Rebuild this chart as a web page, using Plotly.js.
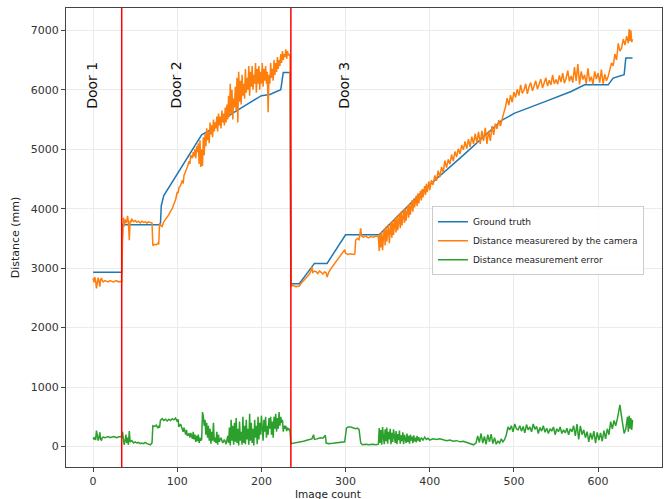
<!DOCTYPE html>
<html>
<head>
<meta charset="utf-8">
<script src="https://cdn.plot.ly/plotly-3.0.1.min.js"></script>
<style>html,body{margin:0;padding:0;background:#fff;}#chart{width:669px;height:499px;}</style>
</head>
<body>
<div id="chart"></div>
<script>
// ---- data ----
const seriesNames = ["Ground truth", "Distance measurered by the camera", "Distance measurement error"];
const doorLabels = ["Door 1", "Door 2", "Door 3"];
const doorLabelX = [-1.5, 99, 298];
const doorLabelY = [6080, 6080, 6080];
const doorBoundaries = [34, 235];

const groundTruthX = [0, 34, 35, 80, 81, 84, 129, 145, 165, 182, 200, 210, 223, 226, 234,
  235, 245, 263, 278, 300, 340, 395, 440, 486, 501, 537, 568, 584, 612, 618, 631, 633, 641];
const groundTruthY = [2930, 2930, 3730, 3730, 4050, 4220, 5240, 5370, 5600, 5750, 5900, 5920, 6000, 6290, 6290,
  2740, 2740, 3080, 3080, 3560, 3560, 4340, 4900, 5490, 5606, 5800, 5970, 6082, 6082, 6195, 6251, 6535, 6535];

// measured distance, door 1
const measuredDoor1 = [[0,2830],[1,2760],[2,2850],[3,2790],[4,2660],[5,2800],[6,2840],[7,2780],[8,2690],[9,2810],[10,2830],[11,2790],[12,2770],[14,2790],[16,2780],[18,2770],[20,2790],[22,2780],[24,2770],[26,2780],[28,2790],[30,2770],[32,2780],[34,2780]];
// measured distance, door 2
const measuredDoor2 = [[35,3480],[36,3850],[37,3700],[38,3820],[39,3760],[40,3790],[41,3880],[42,3760],[43,3470],[44,3800],[45,3770],[46,3830],[48,3780],[50,3800],[52,3770],[54,3790],[56,3760],[58,3790],[60,3770],[62,3780],[64,3760],[66,3780],[68,3770],[70,3760],[71,3380],[73,3400],[75,3390],[77,3420],[78,3400],[79,3760],[80,3720],[82,3700],[84,3780],[86,3820],[88,3850],[90,3900],[92,3960],[94,4000],[96,4080],[98,4150],[100,4280],[101,4260],[102,4350],[104,4390],[106,4480],[107,4420],[108,4560],[110,4620],[112,4700],[114,4800],[115,4750],[116,4900],[118,4850],[119,4950],[120,4880],[121,5000],[122,4850],[123,5050],[124,4950],[125,5100],[126,4750],[127,5150],[128,4700],[129,5000],[130,4720],[131,5200],[132,4900],[133,5250],[134,5050],[135,5350],[136,5150],[137,5300],[138,5100],[139,5450],[140,5250],[141,5400],[142,5200],[143,5500],[144,5300],[145,5450],[146,5350],[147,5550],[148,5300],[149,5600],[150,5400],[151,5550],[152,5350],[153,5650],[154,5450],[155,5600],[156,5400],[157,5700],[158,5450],[159,5750],[160,5500],[161,5900],[162,5550],[163,6100],[164,5600],[165,6000],[166,5500],[167,5850],[168,5700],[169,6050],[170,5650],[171,6200],[172,5450],[173,6300],[174,5800],[175,6150],[176,5750],[177,6250],[178,5900],[179,6100],[180,5850],[181,6350],[182,5950],[183,6200],[184,6000],[185,6400],[186,5900],[187,6300],[188,6050],[189,6400],[190,6000],[191,6250],[192,6100],[193,6450],[194,5950],[195,6350],[196,6100],[197,6400],[198,6000],[199,6300],[200,6100],[201,6450],[202,6050],[203,6350],[204,6150],[205,6400],[206,6100],[207,6300],[208,5620],[209,6250],[210,6100],[211,6450],[212,6200],[213,6350],[214,6150],[215,6500],[216,6250],[217,6450],[218,6300],[219,6550],[220,6350],[221,6500],[222,6400],[223,6600],[224,6450],[225,6650],[226,6500],[227,6600],[228,6550],[229,6680],[230,6520],[231,6650],[232,6580],[233,6600],[234,6550]];
// measured distance, door 3
const measuredDoor3 = [[235,2700],[238,2710],[241,2690],[245,2700],[248,2760],[251,2800],[254,2850],[257,2900],[259,2960],[260,3020],[261,2930],[263,2950],[265,2940],[267,2910],[269,2950],[271,2930],[273,2900],[275,2940],[277,2920],[278,2850],[280,2930],[284,3020],[288,3100],[292,3180],[296,3250],[299,3310],[300,3250],[303,3230],[306,3240],[309,3230],[311,3240],[312,3470],[314,3500],[316,3480],[318,3670],[319,3540],[321,3520],[324,3540],[327,3510],[330,3530],[333,3520],[336,3540],[339,3530],
[340,3290],[341,3580],[342,3350],[343,3610],[344,3300],[345,3520],[346,3660],[347,3380],[348,3700],[349,3450],[350,3600],[351,3740],[352,3420],[353,3690],[354,3780],[355,3510],[356,3800],[357,3560],[358,3720],[359,3850],[360,3600],[361,3880],[362,3640],[363,3760],[364,3920],[365,3670],[366,3950],[367,3720],[368,3830],[369,3990],[370,3760],[371,4000],[372,3800],[373,3920],[374,4060],[375,3850],[376,4080],[377,3900],[378,4010],[379,4140],[380,3950],[381,4170],[382,4020],[383,4100],[384,4220],[385,4040],[386,4260],[387,4090],[388,4180],[389,4300],[390,4140],[391,4330],[392,4190],[393,4260],[394,4380],[395,4230],[396,4420],[397,4280],[398,4350],[399,4460],[400,4310],
[402,4480],[404,4400],[406,4560],[408,4470],[410,4640],[412,4530],[414,4700],[416,4610],[418,4810],[420,4690],[422,4830],[424,4750],[426,4910],[428,4800],[430,4960],[432,4870],[434,5010],[436,4920],[438,5070],[440,4990],[442,5130],[444,5010],[446,5170],[448,5040],[450,5210],[452,5090],[454,5260],[456,5110],[458,5290],[460,5090],[462,5310],[464,5140],[466,5360],[468,5090],[470,5310],[472,5140],[474,5390],[476,5240],[478,5430],[480,5340],[482,5490],[484,5390],[486,5530],[488,5610],[490,5710],[492,5860],[494,5740],[496,5910],[498,5790],[500,5960],
[502,5870],[504,6010],[506,5900],[508,6080],[510,5940],[512,5990],[514,6100],[516,5930],[518,6050],[520,6120],[522,5980],[524,6070],[526,6150],[528,6010],[530,6090],[532,6180],[534,6030],[536,6120],[538,6200],[540,6060],[542,6160],[544,6080],[546,6250],[548,6100],[550,6170],[552,6090],[554,6240],[556,6130],[558,6280],[560,6110],[562,6190],[564,6320],[566,6140],[568,6230],[570,6120],[572,6380],[574,6150],[576,6430],[578,6090],[580,6310],[582,6170],[584,6250],[586,6100],[588,6360],[590,6140],[592,6220],[594,6090],[596,6310],[598,6180],[600,6280],[602,6120],[604,6340],[606,6100],[608,6260],[610,6150],[612,6220],[614,6330],[616,6450],[618,6400],[620,6600],[622,6500],[624,6780],[626,6650],[628,6700],[630,6850],[632,6750],[634,6900],[636,6780],[637,7020],[638,6820],[639,7000],[640,6800],[641,6850]];

// measurement error
const errorDoor1 = [[0,150],[1,120],[2,160],[3,110],[4,270],[5,130],[6,100],[7,150],[8,240],[9,120],[10,110],[11,150],[12,160],[14,150],[16,160],[18,170],[20,150],[22,160],[24,170],[26,160],[28,150],[30,160],[32,170],[34,160]];
const errorDoor2 = [[35,250],[36,120],[37,30],[38,100],[39,200],[40,60],[41,150],[42,30],[43,260],[44,80],[46,100],[48,60],[50,80],[52,60],[54,70],[56,50],[58,60],[60,50],[62,70],[64,50],[66,40],[68,30],[70,60],[71,350],[73,340],[75,360],[77,310],[78,340],[79,320],[80,440],[82,470],[84,440],[86,460],[88,430],[90,460],[92,440],[94,470],[96,450],[98,480],[100,420],[101,460],[102,330],[104,380],[106,300],[107,250],[108,320],[110,200],[111,280],[112,180],[114,220],[115,150],[116,230],[118,130],[119,250],[120,120],[121,200],[122,80],[123,180],[124,90],[125,200],[126,60],[127,150],[128,100],[129,120],[130,580],[131,500],[132,350],[133,450],[134,200],[135,400],[136,150],[137,350],[138,100],[139,300],[140,50],[141,250],[142,100],[143,400],[144,80],[145,150],[146,60],[147,250],[148,30],[149,200],[150,80],[152,150],[154,60],[156,120],[158,40],[160,180],[161,60],[162,320],[163,20],[164,450],[165,100],[166,350],[167,30],[168,400],[169,80],[170,480],[171,60],[172,300],[173,20],[174,420],[175,100],[176,250],[177,30],[178,500],[179,60],[180,350],[181,40],[182,450],[183,120],[184,300],[185,30],[186,550],[187,100],[188,400],[189,60],[190,300],[191,20],[192,450],[193,150],[194,350],[195,40],[196,500],[197,120],[198,400],[199,200],[200,520],[201,300],[202,100],[203,450],[204,250],[205,500],[206,150],[207,350],[208,200],[209,480],[210,300],[211,500],[212,200],[213,420],[214,150],[215,500],[216,300],[217,550],[218,250],[219,480],[220,300],[221,580],[222,350],[223,500],[224,400],[225,450],[226,250],[227,350],[228,300],[229,350],[230,260],[231,320],[232,280],[233,300],[234,260]];
const errorDoor3 = [[235,50],[240,60],[245,70],[250,90],[255,110],[260,130],[262,200],[263,120],[266,130],[270,150],[273,140],[276,190],[277,60],[280,50],[285,55],[290,60],[295,70],[299,80],[301,310],[303,330],[306,330],[309,320],[312,300],[314,310],[316,290],[318,60],[320,30],[324,40],[328,30],[332,40],[336,30],[339,40],
[340,310],[341,60],[342,280],[343,30],[344,330],[345,150],[346,40],[347,290],[348,90],[349,320],[350,50],[351,250],[352,120],[353,300],[354,40],[355,230],[356,80],[357,290],[358,140],[359,60],[360,260],[361,40],[362,210],[363,110],[364,270],[365,50],[366,190],[367,90],[368,240],[369,40],[370,200],[371,130],[372,60],[373,220],[374,80],[375,180],[376,50],[377,200],[378,100],[379,170],[380,60],[381,190],[382,90],[383,150],[384,70],[385,180],[386,100],[387,160],[388,80],[390,150],[392,110],[394,160],[396,120],[398,140],[400,110],[404,130],[408,120],[412,130],[416,110],[420,100],[424,110],[428,90],[432,100],[436,80],[440,90],[444,70],[448,60],[452,30],[455,60],[457,180],[459,70],[461,220],[463,60],[465,170],[467,40],[469,200],[471,80],[473,210],[475,50],[477,150],[479,40],[481,90],[483,60],[485,130],[487,80],[489,120],[491,200],[493,330],[495,280],[497,350],[499,250],[501,380],[503,300],[505,280],[507,350],[509,260],[511,340],[513,230],[515,370],[517,280],[519,330],[521,250],[523,380],[525,290],[527,340],[529,220],[531,320],[533,260],[535,350],[537,240],[539,310],[541,220],[543,300],[545,260],[547,330],[549,200],[551,300],[553,250],[555,330],[557,220],[559,280],[561,230],[563,310],[565,200],[567,300],[569,250],[571,350],[573,180],[575,380],[577,120],[579,350],[581,200],[583,280],[585,150],[587,250],[589,80],[591,230],[593,120],[595,260],[597,60],[599,240],[601,110],[603,230],[605,90],[607,270],[609,130],[611,300],[613,200],[615,420],[617,300],[619,440],[621,350],[623,470],[625,600],[626,700],[628,500],[630,350],[631,220],[633,300],[635,500],[636,250],[637,520],[638,300],[639,480],[640,280],[641,450]];

// ---- build traces ----
const measured = measuredDoor1.concat(measuredDoor2, measuredDoor3);
const errors = errorDoor1.concat(errorDoor2, errorDoor3);
const colors = ["#1f77b4", "#ff7f0e", "#2ca02c"];

const traces = [
  {x: groundTruthX, y: groundTruthY, mode: "lines", name: seriesNames[0], line: {color: colors[0], width: 1.5}},
  {x: measured.map(p => p[0]), y: measured.map(p => p[1]), mode: "lines", name: seriesNames[1], line: {color: colors[1], width: 1.5}},
  {x: errors.map(p => p[0]), y: errors.map(p => p[1]), mode: "lines", name: seriesNames[2], line: {color: colors[2], width: 1.5}}
];

const tickFont = {family: "DejaVu Sans", size: 11, color: "#333"};
const axisCommon = {
  showline: true, mirror: true, linecolor: "#444", linewidth: 1,
  showgrid: true, gridcolor: "#ebebeb", gridwidth: 1,
  zeroline: false, ticks: "outside", ticklen: 4, tickcolor: "#444",
  tickfont: tickFont
};

const shapes = doorBoundaries.map(b => ({
  type: "line", xref: "x", yref: "paper", x0: b, x1: b, y0: 0, y1: 1,
  line: {color: "#ff0000", width: 1.5}
}));

const annotations = doorLabels.map((t, i) => ({
  text: t, x: doorLabelX[i], y: doorLabelY[i], xref: "x", yref: "y",
  textangle: -90, showarrow: false,
  font: {family: "DejaVu Sans", size: 14, color: "#111"}
}));
annotations.push({
  text: "Image count", xref: "paper", yref: "paper", x: (328 - 66) / 595.7, y: 0,
  yshift: -26.5, xanchor: "center", yanchor: "middle", showarrow: false,
  font: {family: "DejaVu Sans", size: 10.5, color: "#222"}
});

const layout = {
  width: 669, height: 499,
  margin: {l: 66, r: 7, t: 8, b: 32},
  paper_bgcolor: "#fff", plot_bgcolor: "#fff",
  showlegend: true,
  legend: {
    x: 0.614, y: 0.568, xanchor: "left", yanchor: "top",
    bgcolor: "rgba(255,255,255,0.85)", bordercolor: "#cccccc", borderwidth: 1,
    font: {family: "DejaVu Sans", size: 9, color: "#222"},
    tracegroupgap: 0, itemwidth: 30
  },
  xaxis: Object.assign({}, axisCommon, {range: [-32.2, 676], tickvals: [0, 100, 200, 300, 400, 500, 600]}),
  yaxis: Object.assign({}, axisCommon, {
    range: [-343, 7374], tickvals: [0, 1000, 2000, 3000, 4000, 5000, 6000, 7000],
    title: {text: "Distance (mm)", font: {family: "DejaVu Sans", size: 11, color: "#222"}, standoff: 8}
  }),
  shapes: shapes,
  annotations: annotations
};

Plotly.newPlot("chart", traces, layout, {displayModeBar: false, staticPlot: true});
</script>
</body>
</html>
